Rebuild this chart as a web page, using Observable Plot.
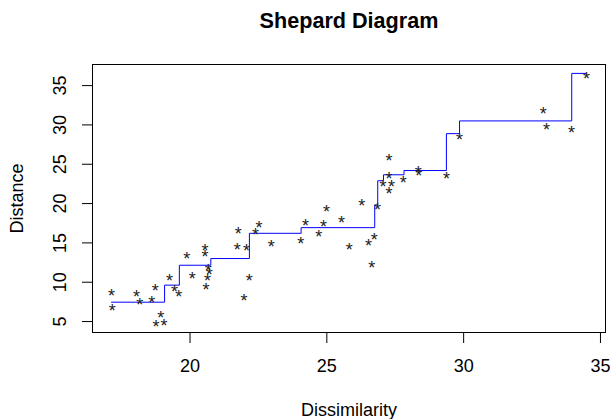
<!DOCTYPE html>
<html><head><meta charset="utf-8">
<script src="https://cdn.jsdelivr.net/npm/d3@7"></script>
<script src="https://cdn.jsdelivr.net/npm/@observablehq/plot@0.6"></script>
<style>html,body{margin:0;padding:0;background:#fff} svg{display:block}</style>
</head><body><div id="chart"></div>
<script>
const title = "Shepard Diagram";
const xLabel = "Dissimilarity";
const yLabel = "Distance";
const xTicks = [20, 25, 30, 35];
const yTicks = [5, 10, 15, 20, 25, 30, 35];

// observed points
const dissimilarity = [17.13, 17.16, 18.04, 18.16, 18.60, 18.73, 18.93, 18.76, 19.05, 19.25,
  19.43, 19.59, 19.88, 20.08, 20.55, 20.55, 20.67, 20.70, 20.64, 20.58,
  21.76, 21.73, 22.06, 22.52, 22.39, 22.16, 21.97, 22.97, 24.05, 24.22,
  24.70, 24.88, 24.99, 25.54, 25.82, 26.28, 26.52, 26.73, 26.64, 26.85,
  27.05, 27.27, 27.27, 27.36, 27.27, 27.79, 28.34, 28.36, 29.37, 29.85,
  32.91, 33.03, 33.94, 34.49];
const distance = [8.78, 6.86, 8.65, 7.63, 7.93, 9.50, 6.02, 4.87, 5.04, 10.65,
  9.29, 8.65, 13.50, 11.00, 14.52, 13.75, 11.97, 11.45, 10.69, 9.54,
  16.65, 14.64, 14.52, 17.41, 16.52, 10.69, 8.23, 15.03, 15.37, 17.67,
  16.35, 17.54, 19.54, 18.09, 14.60, 20.26, 15.20, 15.92, 12.40, 19.71,
  22.68, 26.00, 23.66, 22.60, 21.75, 23.20, 24.39, 24.00, 23.66, 28.63,
  31.95, 29.91, 29.49, 36.42];

// isotonic (monotone) fit, step breakpoints
const fitX = [17.13, 19.07, 19.61, 20.76, 22.17, 24.06, 26.75, 26.86, 27.07, 27.82, 29.37, 29.85, 33.95, 34.49];
const fitY = [7.46, 9.63, 12.16, 13.01, 16.22, 16.94, 19.83, 22.90, 23.66, 24.20, 28.89, 30.51, 36.55, 36.55];

const points = dissimilarity.map((x, i) => ({x, y: distance[i]}));
const fit = fitX.map((x, i) => ({x, y: fitY[i]}));
const pad = ([a, b]) => [a - 0.04 * (b - a), b + 0.04 * (b - a)];

const font = "'Liberation Sans', Arial, Helvetica, sans-serif";

const chart = Plot.plot({
  width: 612,
  height: 419,
  marginLeft: 92,
  marginRight: 7,
  marginTop: 64,
  marginBottom: 87,
  style: {fontFamily: font, fontSize: "18px", background: "#fff", color: "#000", overflow: "visible"},
  x: {domain: pad(d3.extent(dissimilarity))},
  y: {domain: pad(d3.extent(distance))},
  marks: [
    Plot.frame({stroke: "#000", strokeWidth: 1}),
    Plot.axisX({ticks: xTicks, tickSize: 11, tickPadding: 16, fontSize: 18,
      label: xLabel, labelAnchor: "center", labelArrow: "none", labelOffset: 83}),
    Plot.axisY({ticks: yTicks, tickSize: 10, tickPadding: 17, tickRotate: -90, fontSize: 18,
      label: yLabel, labelAnchor: "center", labelArrow: "none", labelOffset: 82}),
    Plot.line(fit, {x: "x", y: "y", curve: "step-after", stroke: "#0000ff", strokeWidth: 1}),
    Plot.text(points, {x: "x", y: "y", text: () => "*", fontSize: 18, dy: 4.6, fill: "#222"}),
    Plot.text([title], {text: d => d, frameAnchor: "top", lineAnchor: "bottom", dy: -36.7,
      fontSize: 21.6, fontWeight: "bold", fill: "#000"})
  ]
});
document.getElementById("chart").appendChild(chart);
</script>
</body></html>
